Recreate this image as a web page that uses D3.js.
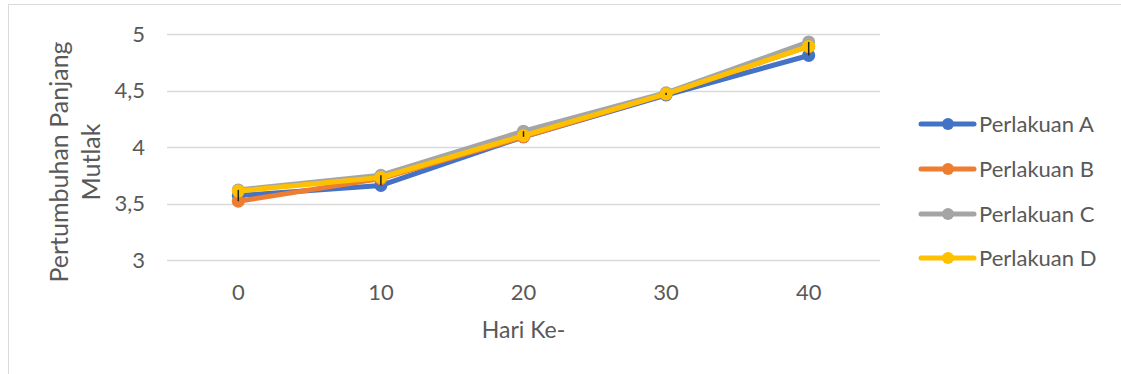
<!DOCTYPE html>
<html>
<head>
<meta charset="utf-8">
<script src="https://cdn.jsdelivr.net/npm/d3@7"></script>
<style>
  html, body { margin: 0; padding: 0; background: #fff; }
  svg { display: block; }
  text { font-family: Lato, "Open Sans", sans-serif; fill: #595959; }
</style>
</head>
<body>
<svg id="chart" width="1121" height="374"></svg>
<script>
// Days of observation (x categories)
const days = ["0", "10", "20", "30", "40"];
// Absolute length growth per treatment
const seriesNames = ["Perlakuan A", "Perlakuan B", "Perlakuan C", "Perlakuan D"];
const perlakuanA = [3.57, 3.66, 4.09, 4.46, 4.81];
const perlakuanB = [3.52, 3.72, 4.09, 4.47, 4.89];
const perlakuanC = [3.62, 3.75, 4.14, 4.48, 4.93];
const perlakuanD = [3.61, 3.73, 4.10, 4.47, 4.89];
const yTicks = [3, 3.5, 4, 4.5, 5];
const seriesColors = ["#4472C4", "#ED7D31", "#A5A5A5", "#FFC000"];

const allSeries = [perlakuanA, perlakuanB, perlakuanC, perlakuanD];

const svg = d3.select("#chart");

// chart frame
svg.append("rect")
  .attr("x", 8.5).attr("y", 4.5)
  .attr("width", 1200).attr("height", 400)
  .attr("fill", "none").attr("stroke", "#d9d9d9").attr("stroke-width", 1);

const plot = { left: 167, right: 880, top: 34, bottom: 260 };

const x = d3.scaleBand().domain(days).range([plot.left, plot.right]);
const y = d3.scaleLinear().domain([3, 5]).range([plot.bottom, plot.top]);

// horizontal gridlines
svg.append("g")
  .selectAll("line")
  .data(yTicks)
  .join("line")
  .attr("x1", plot.left).attr("x2", plot.right)
  .attr("y1", d => Math.round(y(d)) + 0.5).attr("y2", d => Math.round(y(d)) + 0.5)
  .attr("stroke", "#d9d9d9").attr("stroke-width", 1.3);

// y axis labels
const fmt = d => String(d).replace(".", ",");
svg.append("g")
  .selectAll("text")
  .data(yTicks)
  .join("text")
  .attr("x", 145)
  .attr("y", d => y(d))
  .attr("dy", "0.35em")
  .attr("text-anchor", "end")
  .style("font-size", "22px")
  .text(fmt);

// x axis labels
svg.append("g")
  .selectAll("text")
  .data(days)
  .join("text")
  .attr("x", d => x(d) + x.bandwidth() / 2)
  .attr("y", 300)
  .attr("text-anchor", "middle")
  .style("font-size", "22px")
  .text(d => d);

// axis titles
svg.append("text")
  .attr("x", (plot.left + plot.right) / 2)
  .attr("y", 338)
  .attr("text-anchor", "middle")
  .style("font-size", "23px")
  .text("Hari Ke-");

const yTitle = svg.append("text")
  .attr("transform", "translate(0,162) rotate(-90)")
  .attr("text-anchor", "middle")
  .style("font-size", "25px");
yTitle.append("tspan").attr("x", 0).attr("y", 68).text("Pertumbuhan Panjang");
yTitle.append("tspan").attr("x", 0).attr("y", 100).text("Mutlak");

const cx = (d, i) => x(days[i]) + x.bandwidth() / 2;
const line = d3.line().x(cx).y(d => y(d));

// series lines and markers
allSeries.forEach((vals, s) => {
  const g = svg.append("g");
  g.append("path")
    .datum(vals)
    .attr("d", line)
    .attr("fill", "none")
    .attr("stroke", seriesColors[s])
    .attr("stroke-width", 5)
    .attr("stroke-linejoin", "round");
  g.selectAll("circle")
    .data(vals)
    .join("circle")
    .attr("cx", cx)
    .attr("cy", d => y(d))
    .attr("r", 6.5)
    .attr("fill", seriesColors[s]);
});

// high-low lines across the four treatments
svg.append("g")
  .selectAll("line")
  .data(days)
  .join("line")
  .attr("x1", (d, i) => cx(null, i)).attr("x2", (d, i) => cx(null, i))
  .attr("y1", (d, i) => y(d3.max(allSeries, s => s[i])))
  .attr("y2", (d, i) => y(d3.min(allSeries, s => s[i])))
  .attr("stroke", "#222").attr("stroke-width", 1.5);

// legend
const legend = svg.append("g");
const rowsY = [124, 169, 214, 258];
seriesNames.forEach((name, i) => {
  const row = legend.append("g").attr("transform", `translate(0,${rowsY[i]})`);
  row.append("line")
    .attr("x1", 921).attr("x2", 974)
    .attr("stroke", seriesColors[i]).attr("stroke-width", 5)
    .attr("stroke-linecap", "round");
  row.append("circle").attr("cx", 948).attr("cy", 0).attr("r", 6).attr("fill", seriesColors[i]);
  row.append("text")
    .attr("x", 979).attr("y", 0).attr("dy", "0.36em")
    .style("font-size", "22px")
    .text(name);
});
</script>
</body>
</html>
